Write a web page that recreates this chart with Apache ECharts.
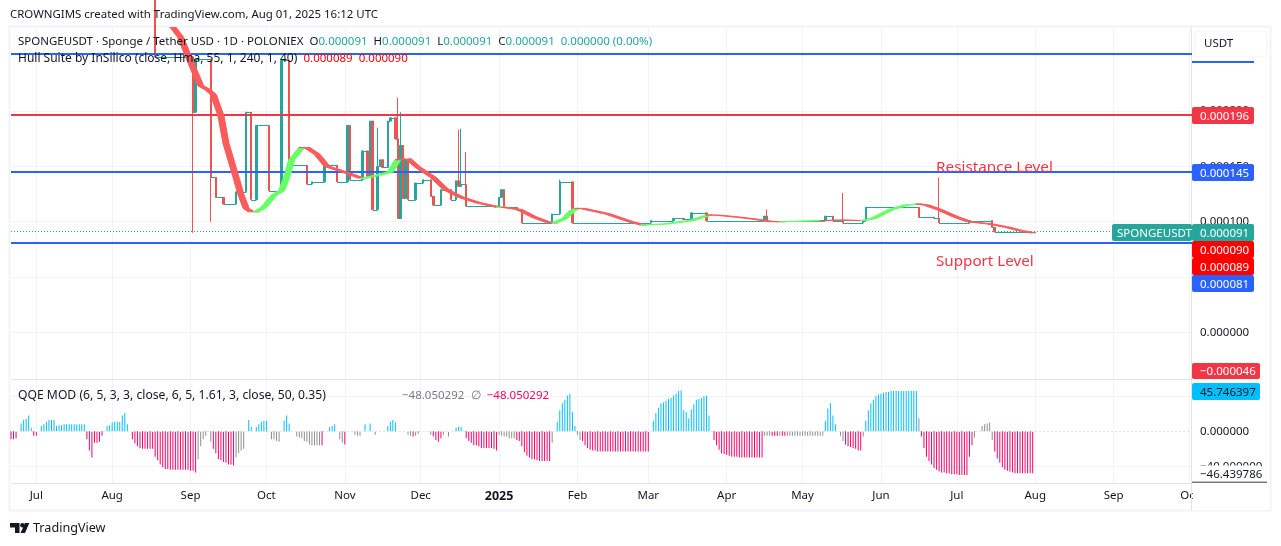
<!DOCTYPE html>
<html lang="en">
<head>
<meta charset="UTF-8">
<title>SPONGEUSDT</title>
<script src="https://cdn.jsdelivr.net/npm/echarts@6/dist/echarts.min.js"></script>
<style>html,body{margin:0;padding:0;background:#fff}#main{width:1281px;height:546px}</style>
</head>
<body>
<div id="main"></div>
<script>
// prices are in millionths of a USDT, days are counted from 1 Jul 2024
const firstDay = -9, lastDay = 458;
const tickDays = [1, 31, 62, 92, 123, 153, 184, 215, 243, 274, 304, 335, 365, 396, 427, 457];
const tickNames = ['Jul', 'Aug', 'Sep', 'Oct', 'Nov', 'Dec', '2025', 'Feb', 'Mar', 'Apr', 'May', 'Jun', 'Jul', 'Aug', 'Sep', 'Oct'];
const priceTicks = [0, 50, 100, 150, 200];
const levelValues = [252, 196.4, 145, 81];
const lastPrice = 91;

// day on which the close moved, and the close it moved to (flat between them)
const closeDays = [48, 63, 64, 70, 72, 75, 80, 84, 86, 88, 93, 98, 101, 108, 110, 115, 120, 124, 125, 130, 132, 133, 134, 136, 137, 138, 140, 141, 143, 144, 145, 146, 147, 148, 151, 154, 157, 158, 161, 165, 167, 168, 169, 171, 183, 184, 185, 186, 191, 193, 205, 208, 213, 244, 253, 257, 260, 266, 289, 290, 313, 316, 320, 328, 329, 350, 356, 358, 370, 379, 380, 396];
const closeValues = [249, 199, 247, 140, 122, 116, 127, 199, 120, 187, 128, 246, 151, 134, 136, 151, 136, 187, 138, 164, 141, 191, 111, 150, 156, 149, 191, 194, 175, 103, 169, 121, 156, 120, 135, 138, 123, 115, 129, 120, 137, 132, 134, 114, 113, 122, 129, 113, 111, 99, 107, 136, 99, 101, 103, 102, 108, 101, 105, 101, 105, 101, 99, 101, 113, 104, 103, 99, 101, 95, 91, 91];
const wickDays = [48, 63, 70, 136, 144, 145, 168, 169, 171, 208, 290, 320, 358];
const wickHighs = [320, 249, 247, 185, 212, 199, 183, 184, 163, 138, 111, 126, 140];
const wickLows = [249, 90, 100, 134, 103, 103, 132, 132, 114, 107, 101, 99, 99];

const hullDays = [
  [55, 58, 63, 66, 69, 71, 74, 76, 80, 82, 84, 86, 88],
  [88, 91, 95, 98, 100, 102, 106],
  [106, 108, 112, 116, 124, 130],
  [130, 136, 141, 144],
  [144, 148, 152, 158, 163, 169, 176, 184],
  [184, 186],
  [186, 192, 198, 204, 206],
  [206, 210, 213, 215],
  [215, 217, 227, 236, 241],
  [241, 250, 260, 267],
  [267, 270, 279, 286, 292, 296],
  [296, 312],
  [312, 319, 328],
  [328, 332, 339, 345, 350],
  [350, 353, 358, 365, 370, 378, 385, 390, 395]
];
const hullValues = [
  [276, 267, 239, 223, 219, 215, 196, 171, 140, 124, 112, 109, 109],
  [109, 113, 124, 128, 140, 156, 167],
  [167, 167, 161, 150, 144, 139],
  [139, 142, 145, 156],
  [156, 157, 149, 140, 129, 122, 117, 113],
  [113, 113],
  [113, 111, 104, 99, 99],
  [99, 103, 110, 112],
  [112, 112, 107, 100, 97],
  [97, 98, 101, 106],
  [106, 106, 104, 102, 100, 100],
  [100, 101],
  [101, 101.5, 101],
  [101, 103, 111, 115, 116],
  [116, 115, 111, 104, 100, 98, 95, 92, 90]
];
const hullTones = ['r', 'g', 'r', 'g', 'r', 'g', 'r', 'g', 'r', 'g', 'r', 'g', 'r', 'g', 'r'];

// one bar per day from the first category on, ten to a row
const qqeValues = [
  -9, -9, -8, 0, 9, 13, 14, 18, 4, -5,
  -5, 0, 6, 8, 11, 13, 13, 13, 6, 7,
  7, 8, 8, 8, 8, 8, 8, 8, 8, 8,
  -9, -22, -30, -13, -13, -12, -5, 0, 6, 7,
  10, 11, 11, 11, 18, 21, 8, 0, -9, -14,
  -17, -19, -20, -20, -20, -20, -20, -29, -33, -38,
  -41, -43, -43, -44, -44, -44, -44, -44, -44, -44,
  -44, -45, -45, -47, -32, -17, -9, -5, 0, -12,
  -20, -25, -32, -33, -35, -36, -38, -38, -39, -30,
  -25, -22, -20, 0, 13, 5, 0, 5, 8, 11,
  12, 12, 0, -9, -9, -11, -12, 0, 12, 18,
  9, 0, 0, -6, -7, -8, -11, -12, -15, -16,
  -16, -16, -16, -16, 0, 0, 5, 6, 8, 0,
  -9, -13, -15, 0, 0, 0, -4, -5, -5, 0,
  8, 0, 9, 0, -4, 0, 0, 0, 0, 6,
  11, 13, 10, 0, 0, 0, 0, -4, -5, -6,
  -5, -3, 0, 0, 0, 0, -4, -6, -10, -12,
  -8, -4, 0, -6, 0, 0, 4, 5, 5, 0,
  -8, -11, -13, -16, -16, -17, -19, -19, -19, -19,
  -19, -20, -22, -4, -5, -6, -6, -8, -8, -8,
  -10, -11, -17, -24, -28, -30, -32, -32, -33, -34,
  -34, -34, -34, -34, -13, 0, 11, 24, 32, 36,
  41, 43, 22, 6, -4, -10, -11, -16, -19, -21,
  -22, -22, -23, -23, -23, -23, -23, -23, -23, -23,
  -23, -23, -23, -23, -23, -23, -23, -23, -23, -23,
  -23, -23, -23, 0, 12, 21, 27, 32, 33, 35,
  37, 38, 41, 43, 46, 47, 24, 22, 15, 25,
  31, 36, 37, 38, 40, 41, 18, 0, -10, -16,
  -21, -25, -26, -27, -28, -29, -29, -29, -30, -30,
  -30, -30, -30, -30, -30, -30, -30, -30, -5, -5,
  -5, -5, -5, -5, -5, -5, -5, -5, -5, -5,
  -5, -5, -5, -5, -5, -5, -5, -5, -5, -5,
  -5, -5, 12, 26, 32, 18, 8, 0, -5, -11,
  -15, -17, -18, -19, -20, -22, -22, -6, 12, 24,
  32, 36, 40, 42, 43, 44, 45, 45, 46, 46,
  46, 46, 46, 46, 46, 46, 46, 46, 46, 15,
  -6, -19, -29, -34, -38, -42, -44, -46, -47, -47,
  -48, -48, -49, -49, -49, -50, -50, -50, -50, -29,
  -16, -7, 0, 0, 6, 8, 9, 10, -10, -23,
  -31, -36, -41, -44, -45, -46, -47, -48, -48, -48,
  -48, -48, -48, -48, -48
];
const qqeTones = [
  'ppp_ccccgp', 'p_cccccccc', 'cccccccccc', 'ppppppp_cc', 'ccccccc_pp',
  'pppppppppp', 'pppppppppp', 'ppppgggg_g', 'pppppppppg', 'ggg_cc_ccc',
  'cc_gggg_cc', 'c__ggggggg', 'gggp__ccc_', 'ggp___ggg_', 'c_c_g____c',
  'ccc____ggp', 'gg____gppp', 'pg_g__ccc_', 'pppppppppp', 'pppggggggg',
  'pppppppppp', 'ppppg_cccc', 'ccccggpppp', 'pppppppppp', 'pppppppppp',
  'ppp_cccccc', 'cccccccccc', 'ccccccc_pp', 'pppppppppp', 'ppppppppgg',
  'gpppgppggg', 'gggggggggg', 'ggccccc_gg', 'pppppppgcc', 'cccccccccc',
  'cccccccccg', 'pppppppppp', 'pppppppppp', 'pg__gggggp', 'pppppppppp',
  'ppppp'
].join('');

const TEAL = '#26a69a', RED = '#ef5350', BLUE = '#2962ff', LEVEL_RED = '#f23645', INK = '#131722', LINE = '#e0e3eb', GRID = '#f2f3f6';
const FONT = '"Noto Sans", sans-serif';
const toneColors = { c: '#00bfff', p: '#ff0066', g: '#8f8f8f' };
const levelColors = [BLUE, LEVEL_RED, BLUE, BLUE];

const days = [];
for (let d = firstDay; d <= lastDay; d++) days.push(String(d));
const tickSet = new Set(tickDays);
const isTick = i => tickSet.has(i + firstDay);

// one [open, close, low, high] row for each day the close moved
function buildCandles() {
  const rows = days.map(() => ['-', '-', '-', '-']);
  closeDays.slice(0, -1).forEach((day, k) => {
    const open = k === 0 ? wickHighs[0] : closeValues[k - 1];
    const close = closeValues[k];
    const w = wickDays.indexOf(day);
    const high = w >= 0 ? Math.max(wickHighs[w], open, close) : Math.max(open, close);
    const low = w >= 0 ? Math.min(wickLows[w], open, close) : Math.min(open, close);
    rows[day - firstDay] = [open, close, low, high];
  });
  return rows;
}

// days without a price move print as flat dashes that join into a level run
function renderFlatRun(params, api) {
  const k = api.value(0);
  if (k >= closeDays.length - 1) return null;
  const a = api.coord([closeDays[k] - firstDay, closeValues[k]]);
  const b = api.coord([closeDays[k + 1] - firstDay, closeValues[k]]);
  const y = Math.round(a[1]) + 0.5;
  return {
    type: 'line',
    shape: { x1: a[0], y1: y, x2: b[0], y2: y },
    style: { stroke: TEAL, lineWidth: 1 }
  };
}

function renderHull(params, api) {
  const run = api.value(0);
  const half = api.size([1, 0])[0] * 1.2;
  const pts = hullDays[run].map((d, k) => api.coord([d - firstDay, hullValues[run][k]]));
  const outline = pts.map(p => [p[0] - half, p[1]]).concat(pts.slice().reverse().map(p => [p[0] + half, p[1]]));
  const color = hullTones[run] === 'g' ? '#66ff66' : '#fb5b5b';
  return {
    type: 'polygon',
    shape: { points: outline },
    style: { fill: color, stroke: color, lineWidth: 1, lineJoin: 'round' }
  };
}

function text(x, y, str, size, fill) {
  return { type: 'text', z: 120, x: x, y: y + 1, style: { text: str, font: size + 'px ' + FONT, fill: fill, textVerticalAlign: 'middle' } };
}

function tag(x0, x1, y0, y1, label, fill, ink, left) {
  return [
    { type: 'rect', z: 110, shape: { x: x0, y: y0, width: x1 - x0, height: y1 - y0, r: 2 }, style: { fill: fill } },
    text(left, (y0 + y1) / 2, label, 11.5, ink)
  ];
}

function legendRow(x, y, parts) {
  const rich = {};
  let content = '';
  parts.forEach((p, k) => {
    rich['t' + k] = { fill: p[1], font: (p[2] || 11.5) + 'px ' + FONT };
    content += '{t' + k + '|' + p[0] + '}';
  });
  return { type: 'text', z: 120, x: x, y: y + 1, style: { text: content, rich: rich, textVerticalAlign: 'middle' } };
}

const chrome = [
  { type: 'rect', z: 105, shape: { x: 1193, y: 484, width: 77, height: 26 }, style: { fill: '#fff' } },
  { type: 'rect', z: 1, shape: { x: 9.5, y: 26.5, width: 1261, height: 484 }, style: { fill: 'none', stroke: '#f0f3fa', lineWidth: 2 } },
  { type: 'line', z: 1, shape: { x1: 1191.5, y1: 27, x2: 1191.5, y2: 510 }, style: { stroke: LINE, lineWidth: 1 } },
  text(10, 14, 'CROWNGIMS created with TradingView.com, Aug 01, 2025 16:12 UTC', 11.45, INK),
  legendRow(18, 41, [['SPONGEUSDT · Sponge / Tether USD · 1D · POLONIEX  O', INK], ['0.000091', TEAL], ['  H', INK], ['0.000091', TEAL], ['  L', INK], ['0.000091', TEAL], ['  C', INK], ['0.000091  0.000000 (0.00%)', TEAL]]),
  legendRow(18, 58, [['Hull Suite by InSilico (close, Hma, 55, 1, 240, 1, 40)  ', INK, 12], ['0.000089  0.000090', '#ff0000']]),
  legendRow(18, 395, [['QQE MOD (6, 5, 3, 3, close, 6, 5, 1.61, 3, close, 50, 0.35)', INK, 12.15]]),
  legendRow(402, 395, [['−48.050292', '#787b86'], ['  ∅  ', '#787b86', 12], ['−48.050292', '#ff0066']]),
  text(936, 167, 'Resistance Level', 15.3, LEVEL_RED),
  text(936, 261, 'Support Level', 15.2, LEVEL_RED),
  { type: 'rect', z: 110, shape: { x: 1192, y: 61, width: 62, height: 2 }, style: { fill: BLUE } },
  { type: 'rect', z: 110, shape: { x: 1195, y: 31, width: 72, height: 26, r: 4 }, style: { fill: '#fff', stroke: '#f0f3fa', lineWidth: 1 } },
  text(1204, 43, 'USDT', 11.5, INK),
  ...tag(1192, 1254, 107, 124, '0.000196', LEVEL_RED, '#fff', 1200),
  ...tag(1192, 1254, 164, 181, '0.000145', BLUE, '#fff', 1200),
  ...tag(1112, 1192, 224, 241, 'SPONGEUSDT', TEAL, '#fff', 1117),
  ...tag(1192, 1254, 224, 241, '0.000091', TEAL, '#fff', 1200),
  ...tag(1192, 1254, 241, 258, '0.000090', '#ff0000', '#fff', 1200),
  ...tag(1192, 1254, 258, 275, '0.000089', '#ff0000', '#fff', 1200),
  ...tag(1192, 1254, 275, 292, '0.000081', BLUE, '#fff', 1200),
  ...tag(1192, 1260, 363, 379, '−0.000046', LEVEL_RED, '#fff', 1200),
  ...tag(1192, 1260, 383, 400, '45.746397', '#00bfff', INK, 1200),
  ...tag(1192, 1262, 465.5, 481.5, '−46.439786', '#ffffff', INK, 1200),
  { type: 'rect', z: 110, shape: { x: 1192, y: 481.5, width: 75, height: 1.5 }, style: { fill: '#787b86' } },
  { type: 'polygon', z: 120, shape: { points: [[10, 523], [19.5, 523], [19.5, 533], [15, 533], [15, 527.5], [10, 527.5]] }, style: { fill: INK } },
  { type: 'polygon', z: 120, shape: { points: [[29.3, 523], [25, 533], [20.6, 533], [24.9, 523]] }, style: { fill: INK } },
  { type: 'circle', z: 120, shape: { cx: 22.4, cy: 525.2, r: 2.2 }, style: { fill: INK } },
  text(33, 527.5, 'TradingView', 12.6, INK)
];

const sharedX = {
  type: 'category',
  data: days,
  boundaryGap: false,
  axisTick: { show: false },
  axisLine: { onZero: false, lineStyle: { color: LINE, width: 1 } },
  splitLine: { show: true, interval: isTick, lineStyle: { color: GRID, width: 1 } }
};

const option = {
  animation: false,
  backgroundColor: '#fff',
  grid: [
    { left: 11, right: 89, top: 27, height: 352 },
    { left: 11, right: 89, top: 380, height: 103 }
  ],
  xAxis: [
    Object.assign({}, sharedX, { gridIndex: 0, axisLabel: { show: false } }),
    Object.assign({}, sharedX, {
      gridIndex: 1,
      axisLabel: {
        interval: isTick,
        margin: 7,
        color: INK,
        fontFamily: FONT,
        fontSize: 11.5,
        hideOverlap: false,
        formatter: v => {
          const name = tickNames[tickDays.indexOf(Number(v))];
          return name === '2025' ? '{b|2025}' : name;
        },
        rich: { b: { fontWeight: 'bold', fontFamily: FONT, fontSize: 12.5, color: INK } }
      }
    })
  ],
  yAxis: [
    {
      gridIndex: 0, type: 'value', position: 'right', min: -42.2, max: 276,
      axisLine: { show: false },
      axisTick: { show: false, customValues: priceTicks },
      splitLine: { show: true, lineStyle: { color: GRID, width: 1 } },
      axisLabel: {
        customValues: priceTicks, margin: 8, color: INK, fontFamily: FONT, fontSize: 11.5,
        formatter: v => (v / 1e6).toFixed(6)
      }
    },
    {
      gridIndex: 1, type: 'value', position: 'right', min: -59.1, max: 58.6,
      axisLine: { show: false },
      axisTick: { show: false, customValues: [-40, 40] },
      splitLine: { show: true, lineStyle: { color: GRID, width: 1 } },
      axisLabel: {
        customValues: [-40, 0], margin: 8, color: INK, fontFamily: FONT, fontSize: 11.5,
        formatter: v => (v < 0 ? '−' : '') + Math.abs(v).toFixed(6)
      }
    }
  ],
  series: [
    {
      name: 'SPONGEUSDT',
      type: 'candlestick',
      xAxisIndex: 0, yAxisIndex: 0,
      barWidth: 2,
      data: buildCandles(),
      itemStyle: { color: TEAL, color0: RED, borderColor: TEAL, borderColor0: RED, borderColorDoji: TEAL, borderWidth: 1 },
      markLine: {
        silent: true, symbol: 'none', animation: false, label: { show: false },
        data: levelValues.map((v, k) => ({ yAxis: v, lineStyle: { color: levelColors[k], width: 2, type: 'solid' } }))
          .concat([{ yAxis: lastPrice, lineStyle: { color: TEAL, width: 1, type: [1, 2] } }])
      }
    },
    {
      name: 'Flat days',
      type: 'custom',
      xAxisIndex: 0, yAxisIndex: 0,
      clip: true,
      z: 3,
      encode: { x: 0, y: 1 },
      data: closeDays.map((_, k) => [k, 100]),
      renderItem: renderFlatRun
    },
    {
      name: 'Hull Suite',
      type: 'custom',
      xAxisIndex: 0, yAxisIndex: 0,
      clip: true,
      z: 5,
      encode: { x: 0, y: 1 },
      data: hullDays.map((_, k) => [k, 100]),
      renderItem: renderHull
    },
    {
      name: 'QQE MOD',
      type: 'bar',
      xAxisIndex: 1, yAxisIndex: 1,
      barWidth: 1,
      data: qqeValues.map((v, k) => ({ value: v || '-', itemStyle: { color: toneColors[qqeTones[k]] || '#fff' } })),
      markLine: {
        silent: true, symbol: 'none', animation: false, label: { show: false },
        data: [{ yAxis: 0, lineStyle: { color: LINE, width: 1, type: [2, 2] } }]
      }
    }
  ],
  graphic: { elements: chrome }
};

echarts.init(document.getElementById('main')).setOption(option);
</script>
</body>
</html>
